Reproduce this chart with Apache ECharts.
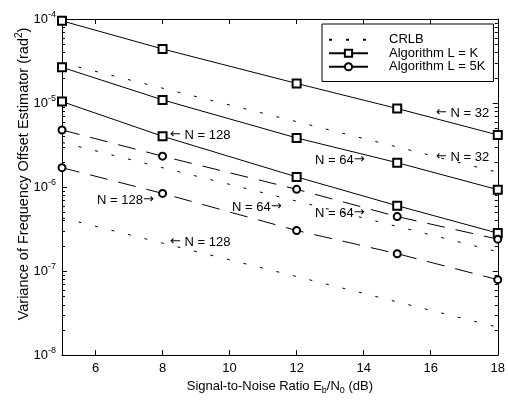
<!DOCTYPE html>
<html>
<head>
<meta charset="utf-8">
<script src="https://cdn.jsdelivr.net/npm/echarts@6/dist/echarts.min.js"></script>
<style>
html, body { margin: 0; padding: 0; background: #fff; }
#main { width: 508px; height: 400px; }
</style>
</head>
<body>
<div id="main"></div>
<script>
// SNR points (dB)
var snr = [5, 8, 12, 15, 18];

// CRLB (dotted)
var crlb32  = [3.0e-5, 1.5e-5, 6.0e-6, 3.0e-6, 1.5e-6];
var crlb64  = [3.4e-6, 1.7e-6, 6.8e-7, 3.4e-7, 1.7e-7];
var crlb128 = [4.3e-7, 2.15e-7, 8.6e-8, 4.3e-8, 2.15e-8];

// Algorithm L = K (solid, squares)
var algK32  = [9.5e-5, 4.4e-5, 1.71e-5, 8.6e-6, 4.17e-6];
var algK64  = [2.66e-5, 1.09e-5, 3.84e-6, 1.95e-6, 9.3e-7];
var algK128 = [1.04e-5, 4.02e-6, 1.32e-6, 6.0e-7, 2.83e-7];

// Algorithm L = 5K (dashed, circles)
var alg5K64  = [4.78e-6, 2.33e-6, 9.4e-7, 4.45e-7, 2.4e-7];
var alg5K128 = [1.7e-6, 8.4e-7, 3.04e-7, 1.61e-7, 7.9e-8];

var xTicks = [6, 8, 10, 12, 14, 16, 18];
var yTicks = [1e-8, 1e-7, 1e-6, 1e-5, 1e-4];

var FONT = 'Liberation Sans';

function pairs(v) {
	var out = [];
	for (var i = 0; i < snr.length; i++) out.push([snr[i], v[i]]);
	return out;
}

function mkSeries(name, vals, kind) {
	var s = {
		name: name,
		type: 'line',
		data: pairs(vals),
		color: '#000',
		animation: false,
		silent: true,
		lineStyle: { color: '#000', width: 1 },
		itemStyle: { color: '#000', borderWidth: 1 },
		z: 3
	};
	if (kind == 'crlb') {
		s.symbol = 'none';
		s.lineStyle.type = [3, 14];
	} else if (kind == 'k') {
		s.symbol = 'emptyRect';
		s.symbolSize = 8;
	} else {
		s.symbol = 'emptyCircle';
		s.symbolSize = 7;
		s.lineStyle.type = [18, 11];
	}
	return s;
}

var chart = echarts.init(document.getElementById('main'));

var option = {
	backgroundColor: '#fff',
	animation: false,
	textStyle: { fontFamily: FONT, color: '#000' },
	grid: { left: 62, right: 6, top: 19, bottom: 42 },
	legend: {
		orient: 'vertical',
		left: 322,
		top: 24,
		padding: [9, 8, 8, 6],
		itemGap: 0,
		itemWidth: 39,
		itemHeight: 9,
		borderColor: '#000',
		borderWidth: 1,
		backgroundColor: '#fff',
		textStyle: { fontFamily: FONT, fontSize: 13, lineHeight: 13.5, color: '#000', padding: [0, 0, 0, 16] },
		data: [
			{ name: 'CRLB', itemStyle: { opacity: 0 } },
			{ name: 'Algorithm L = K' },
			{ name: 'Algorithm L = 5K', lineStyle: { type: 'solid' } }
		]
	},
	xAxis: [{
		type: 'value',
		min: 5,
		max: 18,
		position: 'bottom',
		axisLine: { lineStyle: { color: '#000', width: 1 } },
		axisTick: { inside: true, length: 5, customValues: xTicks, lineStyle: { color: '#000' } },
		axisLabel: { customValues: xTicks, color: '#000', fontSize: 13, fontFamily: FONT, margin: 7 },
		splitLine: { show: false },
		name: '{t|Signal-to-Noise Ratio E}{sub|b}{t|/N}{sub|0}{t| (dB)}',
		nameLocation: 'middle',
		nameGap: 16,
		nameTextStyle: {
			rich: {
				t: { fontSize: 13, fontFamily: FONT, color: '#000' },
				sub: { fontSize: 9, fontFamily: FONT, color: '#000', padding: [8, 0, 0, 0] }
			}
		}
	}, {
		type: 'value',
		min: 5,
		max: 18,
		position: 'top',
		axisLine: { lineStyle: { color: '#000', width: 1 } },
		axisTick: { inside: true, length: 5, customValues: xTicks, lineStyle: { color: '#000' } },
		axisLabel: { show: false },
		splitLine: { show: false }
	}],
	yAxis: [{
		type: 'log',
		logBase: 10,
		min: 1e-8,
		max: 1e-4,
		position: 'left',
		axisLine: { show: true, lineStyle: { color: '#000', width: 1 } },
		axisTick: { inside: true, length: 5, customValues: yTicks, lineStyle: { color: '#000' } },
		axisLabel: {
			customValues: yTicks,
			margin: 6,
			formatter: function (v) {
				var e = Math.round(Math.log10(v));
				return '{b|10}{s|' + e + '}';
			},
			rich: {
				b: { fontSize: 13, fontFamily: FONT, color: '#000' },
				s: { fontSize: 9, fontFamily: FONT, color: '#000', padding: [0, 0, 9, 0] }
			}
		},
		splitLine: { show: false }
	}, {
		type: 'log',
		logBase: 10,
		min: 1e-8,
		max: 1e-4,
		position: 'right',
		axisLine: { show: true, lineStyle: { color: '#000', width: 1 } },
		axisTick: { inside: true, length: 5, customValues: yTicks, lineStyle: { color: '#000' } },
		axisLabel: { show: false },
		splitLine: { show: false }
	}],
	series: [
		mkSeries('CRLB', crlb32, 'crlb'),
		mkSeries('CRLB', crlb64, 'crlb'),
		mkSeries('CRLB', crlb128, 'crlb'),
		mkSeries('Algorithm L = K', algK32, 'k'),
		mkSeries('Algorithm L = K', algK64, 'k'),
		mkSeries('Algorithm L = K', algK128, 'k'),
		mkSeries('Algorithm L = 5K', alg5K64, '5k'),
		mkSeries('Algorithm L = 5K', alg5K128, '5k')
	]
};

chart.setOption(option);

// log minor ticks (2..9 per decade) on both y sides, plus the N = ... notes
var xl = chart.convertToPixel({ xAxisIndex: 0 }, 5);
var xr = chart.convertToPixel({ xAxisIndex: 0 }, 18);
var extra = [];
for (var k = -8; k < -4; k++) {
	for (var m = 2; m <= 9; m++) {
		var y = Math.round(chart.convertToPixel({ yAxisIndex: 0 }, m * Math.pow(10, k))) + 0.5;
		extra.push({ type: 'line', silent: true, shape: { x1: xl, y1: y, x2: xl + 3, y2: y }, style: { stroke: '#000', lineWidth: 1 } });
		extra.push({ type: 'line', silent: true, shape: { x1: xr, y1: y, x2: xr - 3, y2: y }, style: { stroke: '#000', lineWidth: 1 } });
	}
}

// y axis title, sits a bit above the middle like the original
extra.push({
	type: 'text',
	silent: true,
	x: 24,
	y: 174,
	rotation: Math.PI / 2,
	style: {
		text: '{t|Variance of Frequency Offset Estimator (rad}{sup|2}{t|)}',
		align: 'center',
		verticalAlign: 'middle',
		fill: '#000',
		rich: {
			t: { fontSize: 14.5, fontFamily: FONT, fill: '#000' },
			sup: { fontSize: 10, fontFamily: FONT, fill: '#000', padding: [0, 0, 9, 0] }
		}
	}
});

// [text, arrow side, left x, center y]
var notes = [
	['N = 128', 'L', 170, 135],
	['N = 32', 'L', 436, 113],
	['N = 64', 'R', 315, 160],
	['N = 32', 'L', 436, 157],
	['N = 128', 'R', 97, 200],
	['N = 128', 'L', 170, 242],
	['N = 64', 'R', 232, 207],
	['N = 64', 'R', 315, 213]
];
for (var i = 0; i < notes.length; i++) {
	var txt = notes[i][1] == 'L' ? '{a|\u2190}{t| ' + notes[i][0] + '}' : '{t|' + notes[i][0] + '}{a|\u2192}';
	extra.push({
		type: 'text',
		silent: true,
		z: 10,
		x: notes[i][2],
		y: notes[i][3],
		style: {
			text: txt,
			fill: '#000',
			verticalAlign: 'middle',
			rich: {
				t: { fontSize: 13, fontFamily: FONT, fill: '#000' },
				a: { fontSize: 13, fontFamily: 'DejaVu Sans', fill: '#000' }
			}
		}
	});
}

chart.setOption({ graphic: extra });
</script>
</body>
</html>
